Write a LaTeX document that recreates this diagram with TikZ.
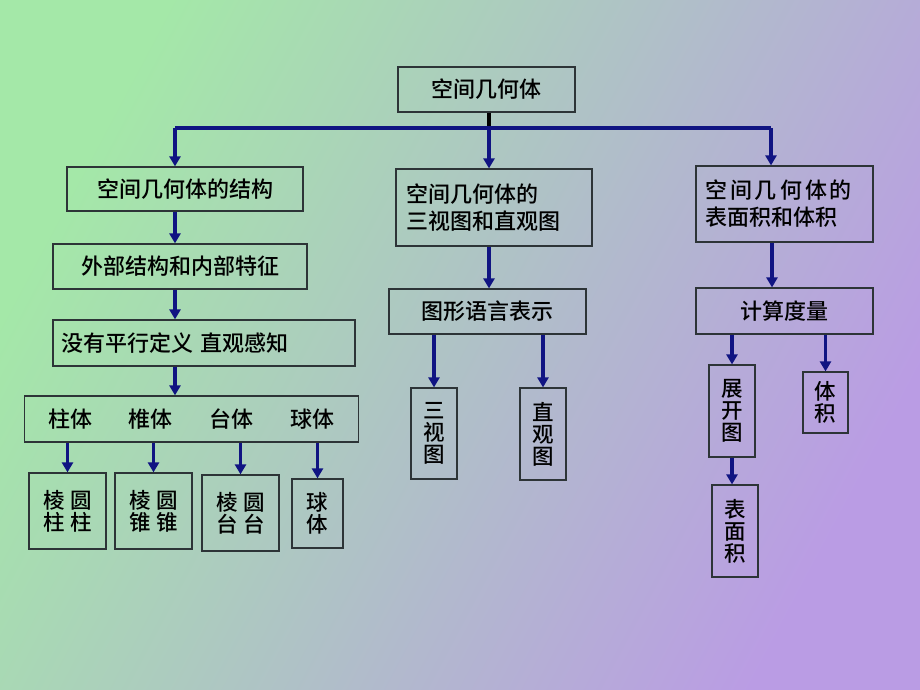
\documentclass[tikz,border=0pt]{standalone}
\usepackage{fontspec}
\setmainfont{Noto Sans CJK SC}[UprightFont=* Medium]
\usetikzlibrary{arrows.meta}
\definecolor{bggreen}{RGB}{164,232,168}
\definecolor{bgpurple}{RGB}{186,156,228}
\definecolor{navyline}{RGB}{16,20,130}
\definecolor{boxline}{RGB}{45,52,55}
\begin{document}
\begin{tikzpicture}[x=1pt,y=-1pt,
    box/.style={draw=boxline,line width=1.2pt,inner sep=0pt,
      font=\fontsize{22}{27}\selectfont},
    tallbox/.style={box,align=center,font=\fontsize{21.5}{22}\selectfont},
    arr/.style={navyline,line width=3.5pt,-{Triangle[width=11pt,length=10pt]}},
    bus/.style={navyline,line width=3.5pt}]
  \shade[top color=bggreen,bottom color=bgpurple,shading angle=62] (0,0) rectangle (920,690);
  \useasboundingbox (0,0) rectangle (920,690);
  % top
  \node[box,minimum width=177pt,minimum height=45pt] (top) at (486.5,89.5) {空间几何体};
  \coordinate (busL) at (175,128);
  \coordinate (busM) at (489,128);
  \coordinate (busR) at (771,128);
  % left branch
  \node[box,minimum width=236pt,minimum height=44pt] (A1) at (185,189) {空间几何体的结构};
  \node[box,minimum width=254pt,minimum height=45pt] (A2) at (180,266.5) {外部结构和内部特征};
  \node[box,text width=286pt,inner xsep=8pt,align=left,minimum height=46pt] (A3) at (204,343) {没有平行定义 直观感知};
  \node[box,minimum width=334pt,minimum height=46pt] (A4) at (191.5,419) {柱体\hspace{36pt}椎体\hspace{37pt}台体\hspace{37pt}球体};
  \node[tallbox,minimum width=77pt,minimum height=76pt] (L1) at (67.5,511) {棱\hspace{6pt}圆\\柱\hspace{6pt}柱};
  \node[tallbox,minimum width=77pt,minimum height=76pt] (L2) at (153.5,511) {棱\hspace{6pt}圆\\锥\hspace{6pt}锥};
  \node[tallbox,minimum width=77pt,minimum height=76pt] (L3) at (240.5,513) {棱\hspace{6pt}圆\\台\hspace{6pt}台};
  \node[tallbox,minimum width=51pt,minimum height=69pt] (L4) at (317.5,513.5) {球\\体};
  % middle branch
  \node[box,text width=176pt,inner xsep=10pt,align=left,minimum height=77pt] (B1) at (494,207.5) {空间几何体的\\三视图和直观图};
  \node[box,minimum width=197pt,minimum height=45pt] (B2) at (487.5,311.5) {图形语言表示};
  \node[tallbox,minimum width=46pt,minimum height=91pt] (B3) at (434,433.5) {三\\视\\图};
  \node[tallbox,minimum width=46pt,minimum height=92pt] (B4) at (543,434) {直\\观\\图};
  % right branch
  \node[box,text width=159pt,inner xsep=9pt,align=left,minimum height=76pt] (C1) at (784.5,204)
    {空\hspace{3pt}间\hspace{3pt}几\hspace{3pt}何\hspace{3pt}体\hspace{3pt}的\\表面积和体积};
  \node[box,minimum width=177pt,minimum height=46pt] (C2) at (784.5,311) {计算度量};
  \node[tallbox,minimum width=46pt,minimum height=92pt] (C3) at (732,411) {展\\开\\图};
  \node[tallbox,minimum width=45pt,minimum height=61pt] (C4) at (825.5,402.5) {体\\积};
  \node[tallbox,minimum width=46pt,minimum height=92pt] (C5) at (735,531) {表\\面\\积};
  % connectors
  \draw[line width=3.5pt] (top.south -| busM) -- (busM);
  \draw[bus] (busL) -- (busR);
  \draw[arr] (busL) -- (A1.north -| busL);
  \draw[arr] (busM) -- (B1.north -| busM);
  \draw[arr] (busR) -- (C1.north -| busR);
  \draw[arr] (A1.south -| busL) -- (A2.north -| busL);
  \draw[arr] (A2.south -| busL) -- (A3.north -| busL);
  \draw[arr] (A3.south -| busL) -- (A4.north -| busL);
  \foreach \leaf in {L1,L2,L3,L4}
    \draw[arr] (A4.south -| \leaf.north) -- (\leaf.north);
  \draw[arr] (B1.south -| busM) -- (B2.north -| busM);
  \draw[arr] (B2.south -| B3.north) -- (B3.north);
  \draw[arr] (B2.south -| B4.north) -- (B4.north);
  \draw[arr] (C1.south -| 772,0) -- (C2.north -| 772,0);
  \draw[arr] (C2.south -| C3.north) -- (C3.north);
  \draw[arr] (C2.south -| C4.north) -- (C4.north);
  \draw[arr] (C3.south) -- (C3.south |- C5.north);
\end{tikzpicture}
\end{document}
